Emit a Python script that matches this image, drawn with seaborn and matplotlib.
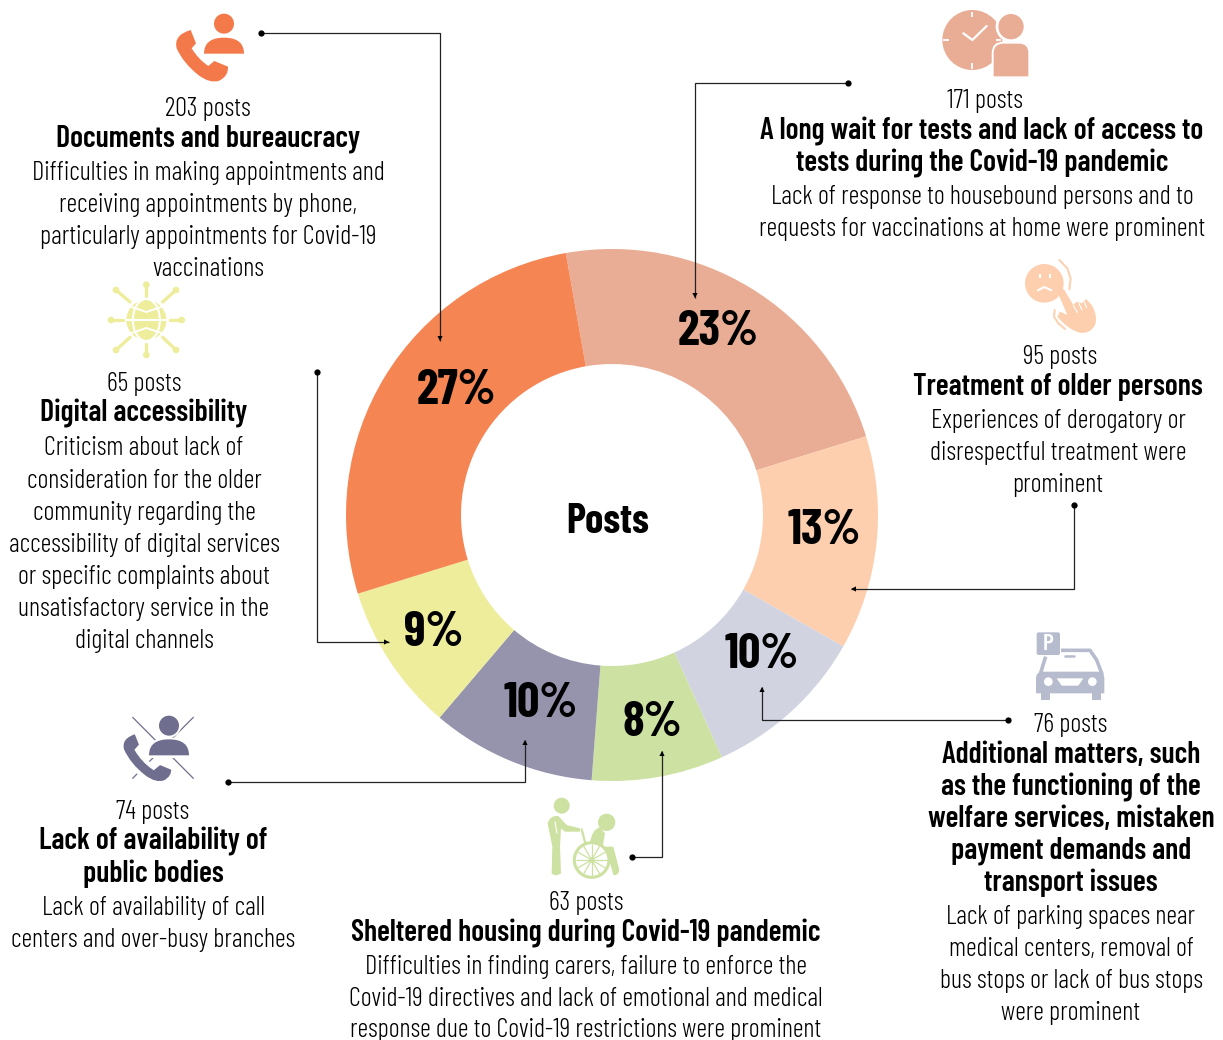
import matplotlib
matplotlib.use("Agg")
import matplotlib.pyplot as plt
import numpy as np
import seaborn as sns
from matplotlib.path import Path
from matplotlib.patches import PathPatch, Circle, Rectangle, FancyBboxPatch, Ellipse, Polygon

categories = ["A long wait for tests", "Treatment of older persons", "Additional matters",
              "Sheltered housing", "Lack of availability", "Digital accessibility",
              "Documents and bureaucracy"]
posts = [171, 95, 76, 63, 74, 65, 203]
percent_values = [23, 13, 10, 8, 10, 9, 27]
percent_labels = ["23%", "13%", "10%", "8%", "10%", "9%", "27%"]
colors = ["#E9AD95", "#FDCFAE", "#D1D4E0", "#CDE1A2", "#9694AC", "#EEED9C", "#F58552"]

sns.set_theme(style="white")
FONT = ['Barlow Condensed', 'Liberation Sans', 'DejaVu Sans']
plt.rcParams['font.family'] = FONT

W, H = 1223, 1040
fig = plt.figure(figsize=(W / 100, H / 100), dpi=100)
ax = fig.add_axes([0, 0, 1, 1])

def Y(y):
    return H - y

wedges, _ = ax.pie(percent_values, colors=colors, startangle=100, counterclock=False,
                   center=(612, Y(515)), radius=266,
                   wedgeprops=dict(width=115, linewidth=0), frame=True)
ax.set_xlim(0, W)
ax.set_ylim(0, H)
ax.set_aspect('auto')
ax.axis('off')

BODY = 19.0
HEAD = 21.5

def line(x, y, s, size=BODY, weight=300):
    ax.text(x, Y(y), s, ha='center', va='center', fontsize=size, fontweight=weight, color='black')

def block(x, rows):
    for y, s, kind in rows:
        if kind == 'b':
            line(x, y + 1, s, HEAD, 600)
        else:
            line(x, y + 2, s)

block(208, [(107, f"{posts[6]} posts", 'n'), (138, "Documents and bureaucracy", 'b'),
            (171, "Difficulties in making appointments and", 'n'),
            (203, "receiving appointments by phone,", 'n'),
            (235, "particularly appointments for Covid-19", 'n'),
            (267, "vaccinations", 'n')])
block(985, [(99, f"{posts[0]} posts", 'n')])
block(982, [(130, "A long wait for tests and lack of access to", 'b'),
            (162, "tests during the Covid-19 pandemic", 'b'),
            (195, "Lack of response to housebound persons and to", 'n'),
            (227, "requests for vaccinations at home were prominent", 'n')])
block(1060, [(355, f"{posts[1]} posts", 'n')])
block(1058, [(386, "Treatment of older persons", 'b'),
             (419, "Experiences of derogatory or", 'n'),
             (451, "disrespectful treatment were", 'n'),
             (483, "prominent", 'n')])
block(144, [(382, f"{posts[5]} posts", 'n'), (413, "Digital accessibility", 'b'),
            (446, "Criticism about lack of", 'n'),
            (479, "consideration for the older", 'n'),
            (511, "community regarding the", 'n'),
            (543, "accessibility of digital services", 'n'),
            (575, "or specific complaints about", 'n'),
            (607, "unsatisfactory service in the", 'n'),
            (639, "digital channels", 'n')])
block(1071, [(723, f"{posts[2]} posts", 'n'), (754, "Additional matters, such", 'b'),
             (786, "as the functioning of the", 'b'),
             (818, "welfare services, mistaken", 'b'),
             (850, "payment demands and", 'b'),
             (882, "transport issues", 'b'),
             (915, "Lack of parking spaces near", 'n'),
             (947, "medical centers, removal of", 'n'),
             (979, "bus stops or lack of bus stops", 'n'),
             (1011, "were prominent", 'n')])
block(153, [(810, f"{posts[4]} posts", 'n'), (841, "Lack of availability of", 'b'),
            (873, "public bodies", 'b'),
            (906, "Lack of availability of call", 'n'),
            (938, "centers and over-busy branches", 'n')])
block(586, [(901, f"{posts[3]} posts", 'n'), (932, "Sheltered housing during Covid-19 pandemic", 'b'),
            (965, "Difficulties in finding carers, failure to enforce the", 'n'),
            (997, "Covid-19 directives and lack of emotional and medical", 'n'),
            (1028, "response due to Covid-19 restrictions were prominent", 'n')])

line(608, 522, "Posts", 29.5, 700)
pct_xy = [(718, 332), (824, 531), (762, 655), (652, 723), (541, 704), (434, 633), (456, 391)]
for (px, py), s in zip(pct_xy, percent_labels):
    line(px, py, s, 35.5, 700)

def leader(pts, arrow_dir):
    xs = [p[0] for p in pts]
    ys = [Y(p[1]) for p in pts]
    ax.plot(xs, ys, color='#222222', lw=0.9, solid_capstyle='butt', solid_joinstyle='miter', zorder=5)
    ax.plot(xs[0], ys[0], 'o', color='black', ms=4.5, zorder=6, markeredgewidth=0)
    ex, ey = pts[-1]
    dx, dy = arrow_dir
    a, b = 5, 2.6
    tri = [(ex, Y(ey)), (ex - dx * a - dy * b, Y(ey - dy * a + dx * b)),
           (ex - dx * a + dy * b, Y(ey - dy * a - dx * b))]
    ax.add_patch(Polygon(tri, closed=True, fc='black', ec='none', zorder=6))

leader([(261, 33), (440, 33), (440, 341)], (0, 1))
leader([(848, 83), (695, 83), (695, 298)], (0, 1))
leader([(1074, 505), (1074, 589), (851, 589)], (-1, 0))
leader([(1008, 720), (762, 720), (762, 687)], (0, -1))
leader([(632, 857), (662, 857), (662, 751)], (0, -1))
leader([(228, 782), (525, 782), (525, 740)], (0, -1))
leader([(317, 372), (317, 642), (389, 642)], (1, 0))


def mapper(ox, oy):
    return lambda x, y: (ox + x / 3, Y(oy + y / 3))

def circle(m, x, y, r, c, z=3):
    ax.add_patch(Circle(m(x, y), r / 3, fc=c, ec='none', zorder=z))

def stroke(m, pts, c, w, z=3, cap='round'):
    p = [m(*q) for q in pts]
    ax.plot([q[0] for q in p], [q[1] for q in p], color=c, lw=w, solid_capstyle=cap,
            solid_joinstyle='round', zorder=z)

def curve(m, segs, c, z=3, ec='none', lw=0):
    verts, codes = [], []
    for seg in segs:
        if len(seg) == 1:
            verts.append(m(*seg[0]))
            codes.append(Path.LINETO if codes else Path.MOVETO)
        else:
            verts += [m(*seg[0]), m(*seg[1])]
            codes += [Path.CURVE3, Path.CURVE3]
    verts.append(verts[0])
    codes.append(Path.CLOSEPOLY)
    ax.add_patch(PathPatch(Path(verts, codes), fc=c, ec=ec, lw=lw, zorder=z))

PHONE = [[(92, 90)], [(108, 130)], [(95, 145)], [(115, 178), (145, 198)], [(163, 183)], [(204, 200)],
         [(206, 228), (178, 242)], [(150, 252), (115, 225)], [(70, 190), (50, 145)], [(40, 105), (92, 90)]]

def person_half(m, x, y, c, z=3):
    curve(m, [[(x - 60, y)], [(x - 60, y - 48), (x, y - 48)], [(x + 60, y - 48), (x + 60, y)]], c, z=z)

# phone + person, orange
m = mapper(160, 0)
curve(m, PHONE, "#F4794A")
circle(m, 192, 71, 30, "#F4794A")
person_half(m, 192, 161, "#F4794A")

# phone + person crossed out
m = mapper(110, 710)
P2 = "#6F6E8E"
stroke(m, [(68, 22), (250, 205)], P2, 0.9)
stroke(m, [(68, 205), (250, 22)], P2, 0.9)
m2 = mapper(110 - 14 / 3, 710 - 25 / 3)
curve(m2, PHONE, P2, z=4, ec='white', lw=3)
circle(m, 177, 47, 36, 'white', z=4)
circle(m, 177, 47, 30, P2, z=5)
curve(m, [[(107, 144)], [(107, 82), (177, 82)], [(247, 82), (247, 144)]], 'white', z=4)
person_half(m, 177, 136, P2, z=5)

# clock + person
m = mapper(930, 0)
C = "#E9AD95"
circle(m, 127, 120, 90, C)
for a, b in [((127, 36), (127, 50)), ((127, 190), (127, 206)), ((40, 120), (56, 120)), ((198, 120), (214, 120))]:
    stroke(m, [a, b], 'white', 1.3, z=4, cap='butt')
stroke(m, [(100, 100), (127, 120), (170, 78)], 'white', 1.6, z=4)
circle(m, 243, 80, 46, 'white', z=4)
circle(m, 243, 80, 38, C, z=5)
curve(m, [[(188, 232)], [(188, 160)], [(188, 128), (220, 128)], [(268, 128)], [(298, 128), (298, 160)], [(298, 232)]],
      C, z=5, ec='white', lw=1.4)

# sad face + hand
m = mapper(1010, 255)
F = "#FDCFAE"
circle(m, 103, 85, 58, F)
stroke(m, [(90, 56), (90, 68)], 'white', 1.5, z=4, cap='butt')
stroke(m, [(119, 56), (119, 68)], 'white', 1.5, z=4, cap='butt')
stroke(m, [(84, 106), (103, 96), (124, 106)], 'white', 1.5, z=4)
stroke(m, [(148, 15), (172, 40), (182, 70), (178, 103)], F, 1.4)
stroke(m, [(134, 165), (132, 185), (145, 205), (165, 222)], F, 1.4)
curve(m, [[(140, 105)], [(150, 93), (163, 105)], [(190, 150)], [(200, 140)], [(215, 145)], [(228, 132)],
          [(245, 150)], [(265, 185), (255, 210)], [(240, 240), (205, 232)], [(170, 220), (142, 185)],
          [(150, 170)], [(172, 180)]], F, z=4)
stroke(m, [(190, 152), (202, 172)], 'white', 0.8, z=5)
stroke(m, [(207, 146), (216, 164)], 'white', 0.8, z=5)
stroke(m, [(222, 140), (230, 158)], 'white', 0.8, z=5)

# globe
m = mapper(100, 280)
G = "#EEED9C"
circle(m, 139, 120, 60, G)
for x, y, ix, iy in [(139, 14, 139, 48), (228, 30, 188, 66), (245, 120, 210, 120), (228, 210, 188, 172),
                     (139, 225, 139, 192), (48, 210, 90, 172), (33, 120, 68, 120), (48, 30, 90, 66)]:
    circle(m, x, y, 10, G)
    stroke(m, [(x, y), (ix, iy)], G, 2.4)
cx, cy = m(139, 120)
ax.add_patch(Ellipse((cx, cy), 27, 42, fc='none', ec='white', lw=1.5, zorder=4))
stroke(m, [(92, 80), (139, 96), (186, 80)], 'white', 1.4, z=4)
stroke(m, [(79, 120), (199, 120)], 'white', 1.4, z=4)
stroke(m, [(92, 160), (139, 144), (186, 160)], 'white', 1.4, z=4)

# parking car
m = mapper(1025, 625)
K = "#B7BBCE"
x0, y0 = m(35, 90)
x1, y1 = m(105, 22)
ax.add_patch(FancyBboxPatch((x0 + 2, y0 + 2), x1 - x0 - 4, y1 - y0 - 4, boxstyle="round,pad=2",
                            fc=K, ec='none', zorder=3))
ax.text((x0 + x1) / 2, (y0 + y1) / 2, "P", color='white', fontsize=17, fontweight=600,
        ha='center', va='center', zorder=4)
stroke(m, [(108, 76), (195, 76), (215, 105), (232, 150)], K, 2.6, cap='butt')
stroke(m, [(62, 95), (45, 150)], K, 2.6, cap='butt')
curve(m, [[(33, 160)], [(33, 140), (55, 140)], [(215, 140)], [(238, 140), (238, 160)], [(238, 205)], [(33, 205)]], K)
ax.add_patch(Rectangle(m(47, 226), 28 / 3, 22 / 3, fc=K, ec='none', zorder=3))
ax.add_patch(Rectangle(m(200, 226), 28 / 3, 22 / 3, fc=K, ec='none', zorder=3))
circle(m, 70, 170, 13, 'white', z=4)
circle(m, 202, 170, 13, 'white', z=4)
ax.add_patch(Polygon([m(95, 160), m(175, 160), m(160, 182), m(110, 182)], fc='white', ec='none', zorder=4))
stroke(m, [(120, 92), (148, 92)], K, 1.8)

# wheelchair
m = mapper(535, 790)
L = "#CDE1A2"
circle(m, 80, 47, 24, L)
curve(m, [[(38, 100)], [(45, 75), (70, 78)], [(95, 105)], [(135, 115)], [(135, 125)], [(90, 125)], [(78, 115)],
          [(75, 170)], [(78, 250)], [(62, 262), (50, 250)], [(52, 170)]], L)
stroke(m, [(60, 95), (66, 130)], 'white', 0.8, z=4)
stroke(m, [(140, 118), (155, 175)], L, 1.6)
circle(m, 215, 97, 26, L)
curve(m, [[(165, 160)], [(170, 118), (195, 112)], [(210, 130)], [(203, 170)], [(235, 170)], [(253, 240)],
          [(250, 258), (235, 255)], [(220, 200)]], L)
cx, cy = m(170, 210)
ax.add_patch(Circle((cx, cy), 55 / 3, fc='white', ec='none', zorder=4))
ax.add_patch(Circle((cx, cy), 52 / 3, fc='none', ec=L, lw=2.2, zorder=5))
for a in np.deg2rad(np.arange(0, 360, 30)):
    stroke(m, [(170, 210), (170 + 48 * np.cos(a), 210 + 48 * np.sin(a))], L, 0.9, z=5, cap='butt')
circle(m, 170, 210, 8, L, z=5)

fig.savefig("out.png", dpi=100, facecolor='white')
